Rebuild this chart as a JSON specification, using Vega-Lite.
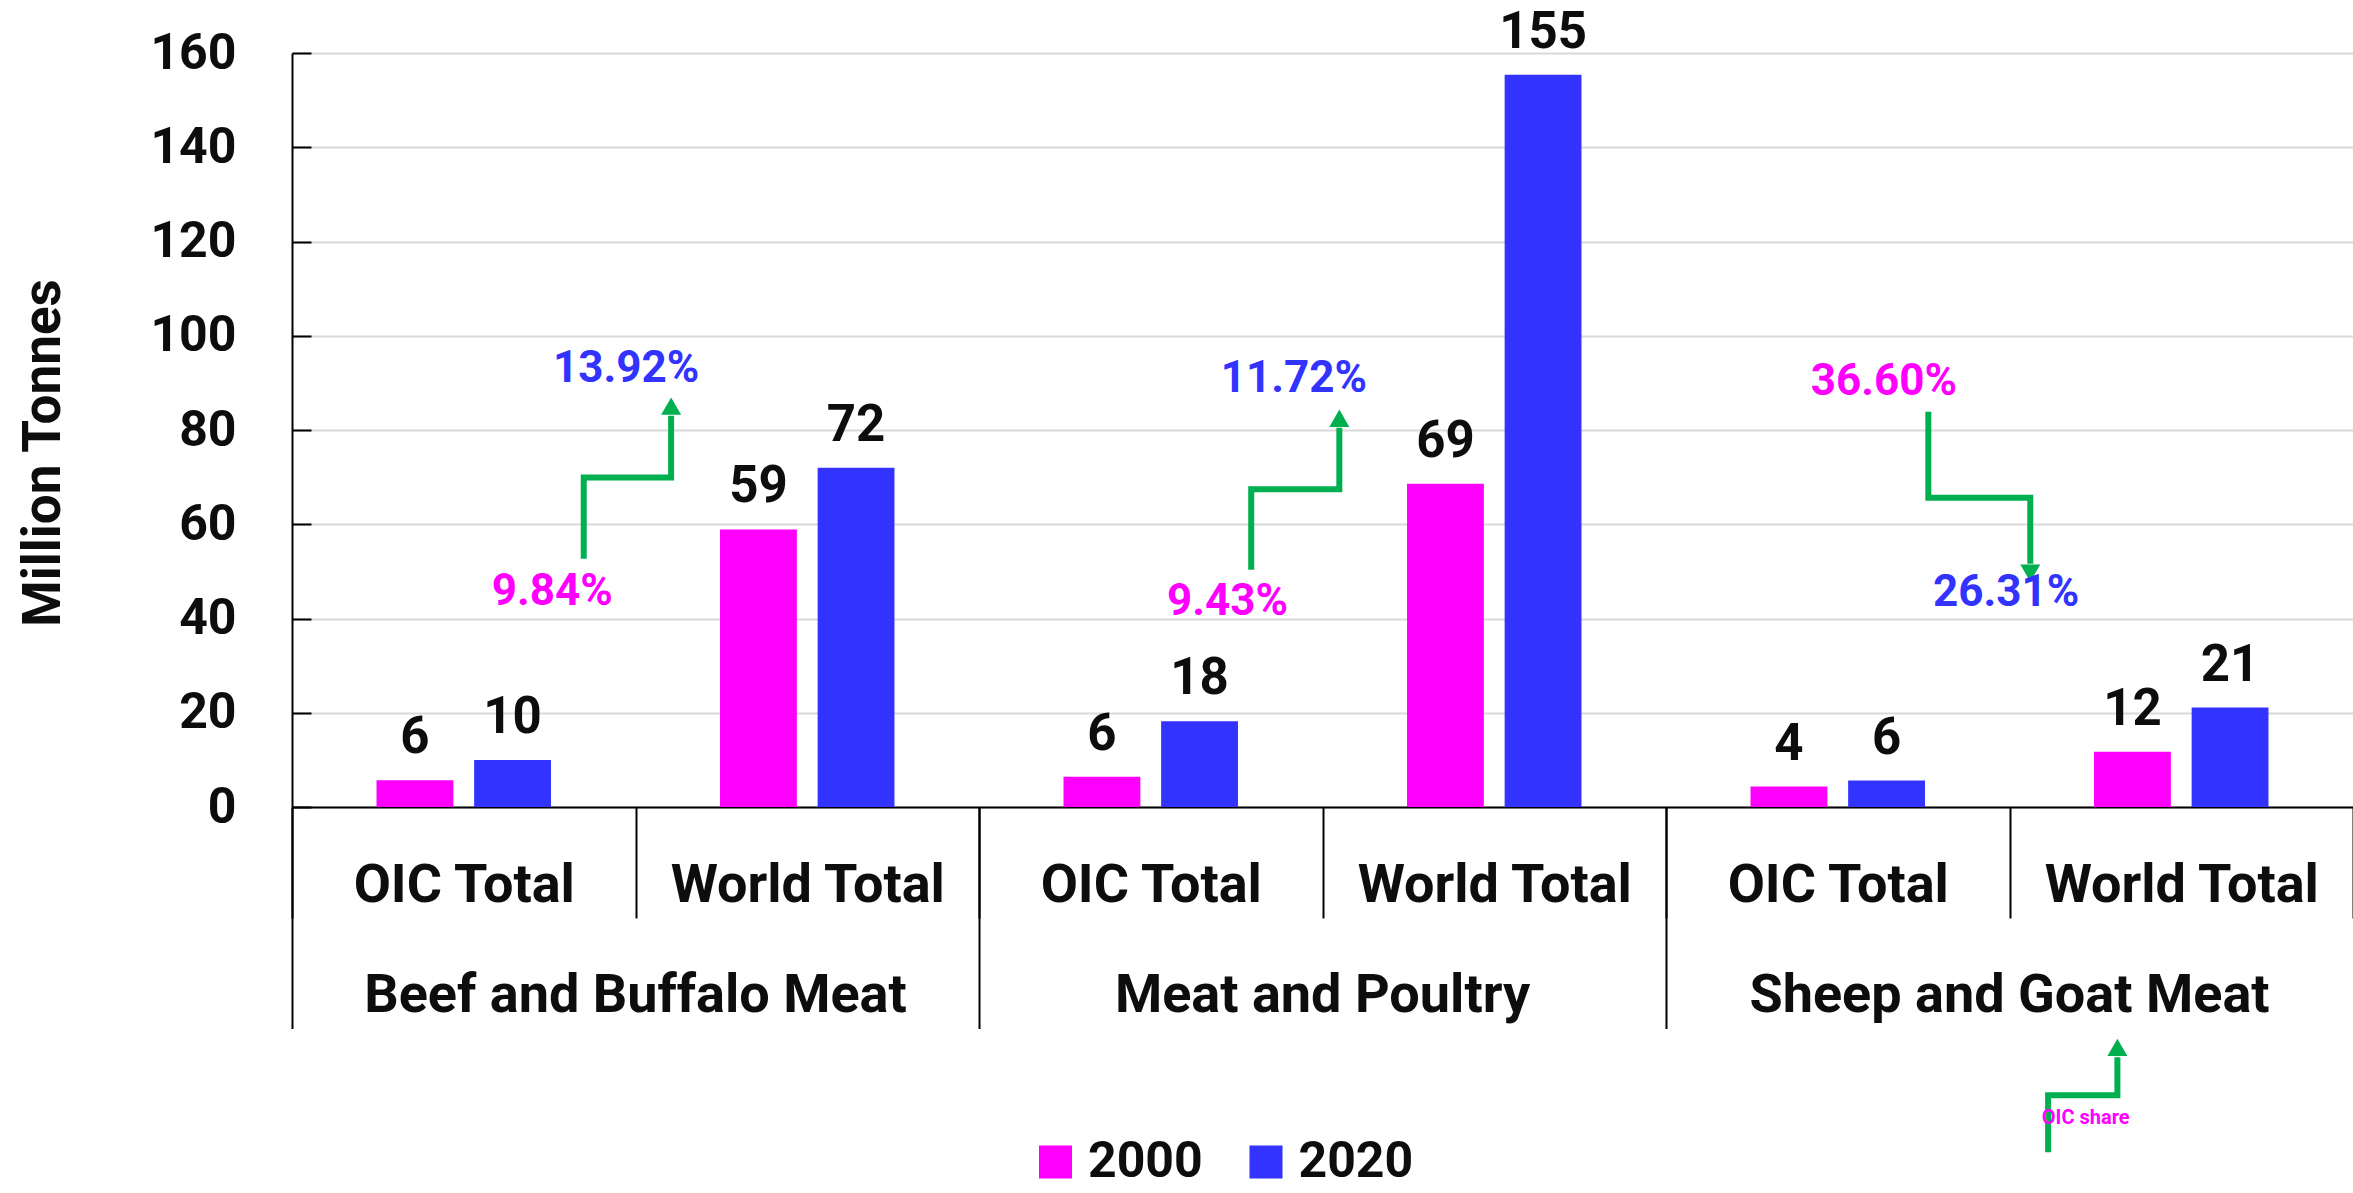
{
  "$schema": "https://vega.github.io/schema/vega-lite/v6.json",
  "width": 2061,
  "height": 754,
  "autosize": "none",
  "padding": {"left": 292, "top": 53, "right": 0, "bottom": 386},
  "background": "white",
  "config": {"view": {"stroke": null}, "font": "Roboto"},
  "datasets": {
    "bars": [
      {"slot": "Beef and Buffalo Meat|OIC Total", "category": "Beef and Buffalo Meat", "type": "OIC Total", "year": "2000", "value": 5.7},
      {"slot": "Beef and Buffalo Meat|OIC Total", "category": "Beef and Buffalo Meat", "type": "OIC Total", "year": "2020", "value": 10.0},
      {"slot": "Beef and Buffalo Meat|World Total", "category": "Beef and Buffalo Meat", "type": "World Total", "year": "2000", "value": 58.9},
      {"slot": "Beef and Buffalo Meat|World Total", "category": "Beef and Buffalo Meat", "type": "World Total", "year": "2020", "value": 72.0},
      {"slot": "Meat and Poultry|OIC Total", "category": "Meat and Poultry", "type": "OIC Total", "year": "2000", "value": 6.4},
      {"slot": "Meat and Poultry|OIC Total", "category": "Meat and Poultry", "type": "OIC Total", "year": "2020", "value": 18.2},
      {"slot": "Meat and Poultry|World Total", "category": "Meat and Poultry", "type": "World Total", "year": "2000", "value": 68.6},
      {"slot": "Meat and Poultry|World Total", "category": "Meat and Poultry", "type": "World Total", "year": "2020", "value": 155.4},
      {"slot": "Sheep and Goat Meat|OIC Total", "category": "Sheep and Goat Meat", "type": "OIC Total", "year": "2000", "value": 4.35},
      {"slot": "Sheep and Goat Meat|OIC Total", "category": "Sheep and Goat Meat", "type": "OIC Total", "year": "2020", "value": 5.6},
      {"slot": "Sheep and Goat Meat|World Total", "category": "Sheep and Goat Meat", "type": "World Total", "year": "2000", "value": 11.7},
      {"slot": "Sheep and Goat Meat|World Total", "category": "Sheep and Goat Meat", "type": "World Total", "year": "2020", "value": 21.1}
    ],
    "arrows": [
      {"arrow": "a1", "seq": 1, "u": 0.8493, "v": 52.70},
      {"arrow": "a1", "seq": 2, "u": 0.8493, "v": 69.94},
      {"arrow": "a1", "seq": 3, "u": 1.1037, "v": 69.94},
      {"arrow": "a1", "seq": 4, "u": 1.1037, "v": 83.02},
      {"arrow": "a2", "seq": 1, "u": 2.7925, "v": 50.36},
      {"arrow": "a2", "seq": 2, "u": 2.7925, "v": 67.44},
      {"arrow": "a2", "seq": 3, "u": 3.0490, "v": 67.44},
      {"arrow": "a2", "seq": 4, "u": 3.0490, "v": 80.48},
      {"arrow": "a3", "seq": 1, "u": 4.7637, "v": 83.87},
      {"arrow": "a3", "seq": 2, "u": 4.7637, "v": 65.63},
      {"arrow": "a3", "seq": 3, "u": 5.0605, "v": 65.63},
      {"arrow": "a3", "seq": 4, "u": 5.0605, "v": 51.64},
      {"arrow": "a4", "seq": 1, "u": 5.1124, "v": -73.27},
      {"arrow": "a4", "seq": 2, "u": 5.1124, "v": -61.18},
      {"arrow": "a4", "seq": 3, "u": 5.3141, "v": -61.18},
      {"arrow": "a4", "seq": 4, "u": 5.3141, "v": -53.12}
    ],
    "heads": [
      {"u": 1.1037, "v": 85.07, "dir": "up"},
      {"u": 3.0490, "v": 82.49, "dir": "up"},
      {"u": 5.0605, "v": 49.62, "dir": "down"},
      {"u": 5.3141, "v": -51.0, "dir": "up"}
    ],
    "shares": [
      {"u": 0.9726, "v": 92.88, "label": "13.92%", "year": "2020"},
      {"u": 0.7579, "v": 45.59, "label": "9.84%", "year": "2000"},
      {"u": 2.9164, "v": 90.87, "label": "11.72%", "year": "2020"},
      {"u": 2.7233, "v": 43.58, "label": "9.43%", "year": "2000"},
      {"u": 4.6340, "v": 90.23, "label": "36.60%", "year": "2000"},
      {"u": 4.9900, "v": 45.49, "label": "26.31%", "year": "2020"}
    ],
    "notes": [
      {"u": 5.2219, "v": -66.06, "label": "OIC share"}
    ]
  },
  "layer": [
    {
      "data": {"name": "bars"},
      "resolve": {"axis": {"x": "independent"}},
      "layer": [
        {
          "mark": {"type": "bar"},
          "encoding": {
            "x": {
              "field": "slot", "type": "nominal",
              "scale": {"domain": ["Beef and Buffalo Meat|OIC Total", "Beef and Buffalo Meat|World Total", "Meat and Poultry|OIC Total", "Meat and Poultry|World Total", "Sheep and Goat Meat|OIC Total", "Sheep and Goat Meat|World Total"], "paddingInner": 0, "paddingOuter": 0},
              "axis": {
                "orient": "bottom", "title": null, "tickBand": "extent", "tickSize": 111, "tickColor": "#000000", "tickWidth": 2,
                "labelExpr": "split(datum.value, '|')[1]", "labelFont": "Roboto", "labelFontSize": 54, "labelFontWeight": "bold",
                "labelColor": "#0D0D0D", "labelBaseline": "alphabetic", "labelPadding": -16.5, "labelAngle": 0, "labelLimit": 0,
                "domainColor": "#000000", "domainWidth": 2, "grid": false,
                "encode": {"ticks": {"y": {"value": -18.5}}}
              }
            },
            "xOffset": {"field": "year", "type": "nominal", "scale": {"domain": ["2000", "2020"], "paddingInner": 0.2128, "paddingOuter": 0.8658}},
            "y": {
              "field": "value", "type": "quantitative",
              "scale": {"domain": [0, 160], "nice": false},
              "axis": {
                "title": "Million Tonnes", "values": [0, 20, 40, 60, 80, 100, 120, 140, 160],
                "tickSize": -19, "tickWidth": 2, "tickColor": "#000000", "labelPadding": 75,
                "labelFont": "Roboto", "labelFontSize": 50, "labelFontWeight": "bold", "labelColor": "#0D0D0D",
                "grid": true, "gridColor": "#D9D9D9", "gridWidth": 2, "domainColor": "#000000", "domainWidth": 2,
                "titleFont": "Roboto", "titleFontSize": 53, "titleFontWeight": "bold", "titleColor": "#0D0D0D",
                "titleX": -248.5, "titleY": 399.5, "titleAlign": "center", "titleBaseline": "middle"
              }
            },
            "color": {
              "field": "year", "type": "nominal",
              "scale": {"domain": ["2000", "2020"], "range": ["#FF00FF", "#3333FF"]},
              "legend": {
                "orient": "none", "legendX": 738.5, "legendY": 1084, "direction": "horizontal", "title": null,
                "symbolType": "square", "symbolSize": 1089, "symbolStrokeWidth": 0, "symbolOpacity": 1,
                "labelFont": "Roboto", "labelFontSize": 50, "labelFontWeight": "bold", "labelColor": "#0D0D0D",
                "labelOffset": 7.5, "columnPadding": 37.5, "padding": 0
              }
            }
          }
        },
        {
          "mark": {"type": "text", "font": "Roboto", "fontWeight": "bold", "fontSize": 51, "color": "#0D0D0D", "baseline": "alphabetic", "dy": -27},
          "encoding": {
            "x": {
              "field": "slot", "type": "nominal",
              "axis": {
                "orient": "bottom", "title": null,
                "values": ["Beef and Buffalo Meat|OIC Total", "Meat and Poultry|OIC Total", "Sheep and Goat Meat|OIC Total"],
                "bandPosition": 0, "labelOffset": 171.75, "tickSize": 221.5, "tickColor": "#000000", "tickWidth": 2,
                "domain": false, "grid": false,
                "labelExpr": "split(datum.value, '|')[0]", "labelFont": "Roboto", "labelFontSize": 54, "labelFontWeight": "bold",
                "labelColor": "#0D0D0D", "labelBaseline": "alphabetic", "labelPadding": -17.5, "labelAngle": 0, "labelLimit": 0
              }
            },
            "xOffset": {"field": "year", "type": "nominal", "scale": {"domain": ["2000", "2020"], "paddingInner": 0.2128, "paddingOuter": 0.8658}},
            "y": {"field": "value", "type": "quantitative", "scale": {"domain": [0, 160], "nice": false}},
            "text": {"field": "value", "type": "quantitative", "format": ".0f"}
          }
        }
      ]
    },
    {
      "layer": [
        {
          "data": {"name": "arrows"},
          "mark": {"type": "line", "color": "#00B050", "strokeWidth": 6, "strokeCap": "butt", "strokeJoin": "miter"},
          "encoding": {
            "x": {"field": "u", "type": "quantitative", "scale": {"domain": [0, 6], "nice": false, "zero": false}, "axis": null},
            "y": {"field": "v", "type": "quantitative", "scale": {"domain": [0, 160], "nice": false}},
            "detail": {"field": "arrow", "type": "nominal"},
            "order": {"field": "seq", "type": "quantitative"}
          }
        },
        {
          "data": {"name": "heads"},
          "mark": {"type": "point", "filled": true, "color": "#00B050", "size": 400, "opacity": 1, "strokeWidth": 0},
          "encoding": {
            "x": {"field": "u", "type": "quantitative", "scale": {"domain": [0, 6], "nice": false, "zero": false}, "axis": null},
            "y": {"field": "v", "type": "quantitative", "scale": {"domain": [0, 160], "nice": false}},
            "shape": {"field": "dir", "type": "nominal", "scale": {"domain": ["up", "down"], "range": ["triangle-up", "triangle-down"]}, "legend": null}
          }
        },
        {
          "data": {"name": "shares"},
          "mark": {"type": "text", "font": "Roboto", "fontWeight": "bold", "fontSize": 44, "baseline": "middle", "align": "center"},
          "encoding": {
            "x": {"field": "u", "type": "quantitative", "scale": {"domain": [0, 6], "nice": false, "zero": false}, "axis": null},
            "y": {"field": "v", "type": "quantitative", "scale": {"domain": [0, 160], "nice": false}},
            "text": {"field": "label", "type": "nominal"},
            "color": {"field": "year", "type": "nominal", "scale": {"domain": ["2000", "2020"], "range": ["#FF00FF", "#3333FF"]}}
          }
        },
        {
          "data": {"name": "notes"},
          "mark": {"type": "text", "font": "Roboto", "fontWeight": "bold", "fontSize": 20, "color": "#FF00FF", "baseline": "middle", "align": "center"},
          "encoding": {
            "x": {"field": "u", "type": "quantitative", "scale": {"domain": [0, 6], "nice": false, "zero": false}, "axis": null},
            "y": {"field": "v", "type": "quantitative", "scale": {"domain": [0, 160], "nice": false}},
            "text": {"field": "label", "type": "nominal"}
          }
        }
      ]
    }
  ],
  "resolve": {"scale": {"x": "independent"}}
}
